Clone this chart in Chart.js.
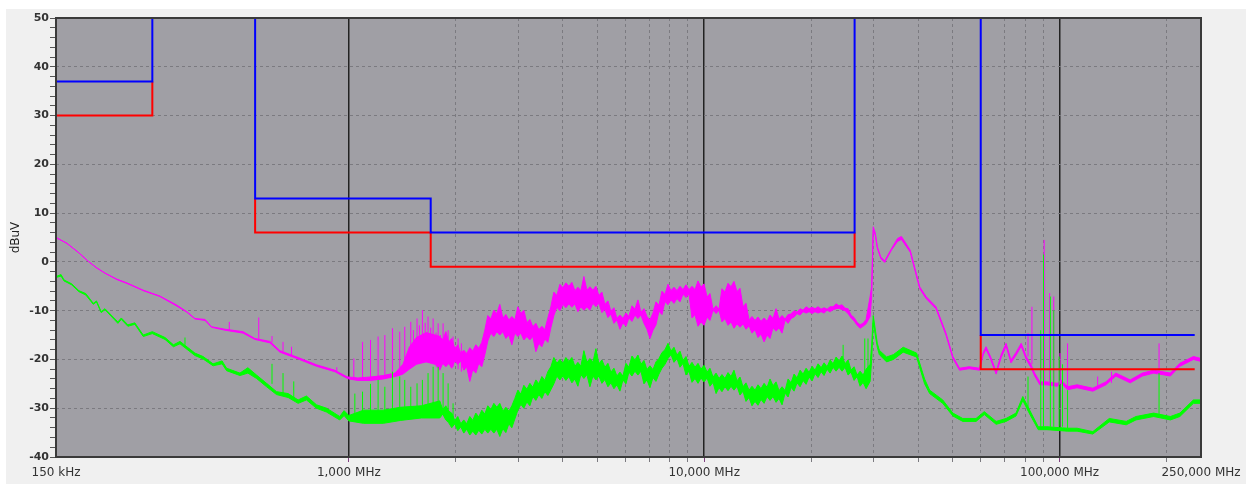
<!DOCTYPE html>
<html><head><meta charset="utf-8">
<script src="https://cdn.jsdelivr.net/npm/chart.js@4.4.0/dist/chart.umd.min.js"></script>
<style>html,body{margin:0;padding:0;background:#fff;}canvas{display:block;}</style>
</head><body>
<canvas id="c" width="1246" height="484"></canvas>
<script>
// ---- axis ticks ----
const xTickValues = [0.15, 1, 10, 100, 250];
const xTickLabels = ['150 kHz', '1,000 MHz', '10,000 MHz', '100,000 MHz', '250,000 MHz'];
const xMinorValues = [2, 3, 4, 5, 6, 7, 8, 9, 20, 30, 40, 50, 60, 70, 80, 90, 200];
const xDecades = [1, 10, 100];
const yTitle = 'dBuV';

// ---- limit lines (MHz, dBuV) ----
const qpF = [0.15, 0.28, 0.28, 0.28, 0.545, 0.545, 1.7, 1.7, 26.5, 26.5, 26.5, 60, 60, 240];
const qpV = [37, 37, 50, null, 50, 13, 13, 6, 6, 50, null, 50, -15, -15];
const avF = [0.15, 0.28, 0.28, 0.28, 0.545, 0.545, 1.7, 1.7, 26.5, 26.5, 26.5, 60, 60, 240];
const avV = [30, 30, 37, null, 13, 6, 6, -1, -1, 6, null, -15, -22, -22];

// ---- shared frequencies of the 1.8 - 29.3 MHz band section ----
const bandF = [
  1.803,1.838,1.875,1.911,1.948,1.987,2.026,2.066,2.106,2.147,2.190,2.233,
  2.277,2.321,2.367,2.414,2.461,2.510,2.559,2.609,2.660,2.713,2.766,2.821,
  2.876,2.932,2.990,3.049,3.108,3.170,3.232,3.295,3.360,3.426,3.493,3.562,
  3.632,3.703,3.776,3.850,3.926,4.003,4.081,4.161,4.243,4.327,4.412,4.498,
  4.587,4.677,4.769,4.862,4.958,5.055,5.155,5.256,5.359,5.464,5.572,5.681,
  5.793,5.907,6.023,6.141,6.262,6.385,6.510,6.638,6.769,6.902,7.037,7.176,
  7.316,7.460,7.607,7.756,7.909,8.064,8.222,8.384,8.549,8.717,8.888,9.063,
  9.240,9.422,9.607,9.796,9.988,10.19,10.38,10.59,10.80,11.01,11.22,11.44,
  11.67,11.90,12.13,12.37,12.61,12.86,13.11,13.37,13.63,13.90,14.17,14.45,
  14.74,15.03,15.32,15.62,15.93,16.24,16.56,16.89,17.22,17.56,17.90,18.25,
  18.61,18.98,19.35,19.73,20.12,20.51,20.91,21.33,21.74,22.17,22.61,23.05,
  23.50,23.96,24.43,24.91,25.40,25.90,26.41,26.93,27.46,28.0,28.55,29.30];

// ---- peak trace (magenta): upper / lower envelope ----
const magLowF = [0.150,0.161,0.173,0.185,0.195,0.206,0.222,0.239,0.264,0.294,0.327,0.350,0.369,0.394,0.411,0.448,0.504,0.544,0.600,0.640,0.720,0.811,0.913,0.985,1.0,
  1.06,1.15,1.25,1.35,1.42,1.48,1.55,1.65,1.75];
const magLowHi = [5.0,3.8,2.0,0.1,-1.2,-2.3,-3.5,-4.4,-5.8,-7.0,-8.8,-10.2,-11.6,-11.8,-13.3,-13.8,-14.3,-15.7,-16.3,-18.2,-19.6,-21.1,-22.2,-23.5,-23.6,
  -23.8,-23.6,-23.3,-22.8,-21.0,-17.5,-15.5,-14.5,-15.0];
const magLowLo = [5.0,3.8,2.0,0.1,-1.2,-2.3,-3.6,-4.5,-5.9,-7.1,-9.0,-10.3,-11.7,-12.0,-13.4,-14.0,-14.6,-15.9,-16.6,-18.5,-19.9,-21.4,-22.5,-23.8,-24.0,
  -24.3,-24.3,-24.0,-23.5,-23.0,-22.0,-21.0,-20.5,-21.0];
const magBandHi = [
  -15.3,-16.0,-14.3,-16.4,-15.7,-17.7,-17.0,-18.8,-18.1,-18.8,-17.6,-18.3,
  -17.0,-17.7,-16.5,-14.0,-11.0,-11.7,-9.9,-10.6,-8.7,-11.5,-10.8,-11.9,
  -11.2,-11.9,-9.2,-10.6,-9.9,-12.5,-11.8,-13.3,-12.6,-13.9,-13.2,-13.9,
  -11.5,-9.2,-6.2,-6.9,-4.6,-5.3,-4.3,-5.0,-4.2,-5.9,-5.2,-5.9,
  -3.0,-5.8,-5.1,-5.8,-5.0,-6.9,-6.2,-8.7,-8.0,-10.1,-9.4,-11.6,
  -10.9,-11.6,-10.5,-11.2,-9.0,-9.7,-7.8,-10.3,-9.6,-11.2,-11.9,-10.5,
  -8.2,-8.9,-6.0,-6.7,-4.6,-5.9,-5.2,-5.9,-5.0,-5.7,-4.7,-5.7,
  -5.0,-5.7,-3.9,-5.2,-4.5,-7.2,-6.5,-9.7,-9.0,-9.7,-5.5,-6.2,
  -4.4,-5.1,-4.0,-6.1,-5.4,-9.2,-8.5,-11.9,-11.2,-12.0,-11.3,-12.2,
  -11.5,-12.2,-10.9,-11.6,-9.6,-11.7,-11.0,-11.7,-10.8,-10.7,-10.0,-10.3,
  -9.6,-9.9,-9.2,-9.6,-9.3,-9.6,-9.2,-9.7,-9.4,-9.7,-9.2,-9.2,
  -8.6,-9.0,-8.8,-9.5,-9.6,-10.9,-11.4,-12.4,-12.9,-12.6,-11.8,-7.1];
const magBandLo = [
  -22.2,-20.8,-21.5,-20.8,-21.8,-20.3,-21.0,-20.3,-22.2,-21.5,-24.5,-22.1,
  -22.8,-20.8,-21.5,-19.0,-16.2,-14.6,-15.3,-14.3,-15.0,-14.3,-15.7,-15.0,
  -17.0,-14.6,-15.3,-14.6,-16.0,-15.3,-16.0,-15.3,-18.4,-16.7,-17.4,-15.8,
  -16.5,-13.5,-11.0,-9.3,-10.0,-8.7,-9.4,-8.6,-9.3,-8.6,-10.2,-9.2,
  -9.9,-9.2,-9.9,-8.5,-9.2,-8.5,-10.4,-9.7,-11.4,-10.7,-12.6,-11.9,
  -13.8,-12.5,-13.2,-11.5,-12.2,-10.9,-11.6,-10.9,-12.6,-13.8,-15.7,-14.0,
  -12.9,-10.1,-10.8,-8.1,-8.8,-7.8,-8.5,-7.5,-8.2,-6.6,-7.3,-6.6,
  -11.5,-10.8,-13.2,-12.3,-13.0,-11.3,-12.0,-9.9,-10.6,-9.9,-12.3,-11.6,
  -13.0,-12.3,-13.6,-12.7,-13.4,-12.7,-13.8,-13.1,-14.6,-13.9,-15.5,-14.8,
  -16.4,-15.0,-15.7,-13.5,-14.2,-13.5,-14.6,-11.9,-12.6,-11.6,-11.3,-10.6,
  -10.9,-10.2,-10.5,-10.2,-10.6,-10.2,-10.5,-10.2,-10.5,-9.9,-10.2,-9.8,
  -9.6,-9.5,-9.8,-10.0,-10.6,-11.5,-12.1,-13.0,-13.6,-13.2,-12.7,-11.2];
const magHighF = [29.6,29.9,30.3,30.7,31.4,32.2,33.7,35.0,35.9,38.0,40.4,42.1,44.9,47.9,50.1,52.3,55.7,59.5,61.0,62.1,64.0,66.3,68.5,70.7,73.0,75.5,78.0,80.6,83.0,85.1,88.0,92.1,98.6,100.8,105.3,112,124,135,144,158,171,184,205,218,238,250];
const magHighHi = [-5.0,7.2,5.9,3.1,1.0,0.2,2.8,4.8,5.2,2.4,-5.1,-7.1,-9.2,-14.6,-19.4,-21.8,-21.5,-21.8,-18.5,-17.4,-19.5,-22.5,-19.0,-16.7,-20.1,-18.5,-16.7,-19.4,-21.0,-22.8,-24.6,-24.6,-24.9,-24.2,-25.6,-25.2,-25.9,-24.6,-22.8,-24.2,-22.8,-22.2,-22.8,-20.8,-19.4,-19.8];
const magHighLo = [-7.0,6.5,5.5,2.8,0.7,-0.1,2.5,4.2,4.6,2.0,-5.5,-7.5,-9.6,-15.0,-19.8,-22.2,-21.9,-22.2,-19.0,-17.9,-20.0,-23.0,-19.6,-17.3,-20.7,-19.1,-17.3,-20.0,-21.6,-23.4,-25.2,-25.2,-25.5,-24.8,-26.2,-25.8,-26.5,-25.2,-23.4,-24.8,-23.4,-22.8,-23.4,-21.4,-20.0,-20.4];

// ---- peak trace spikes: frequency, base, top ----
const magSpF  = [0.461,0.558,0.608,0.653,0.690,0.925,1.033,1.093,1.151,1.209,1.263,1.327,1.391,1.437,1.494,1.52,1.556,1.58,1.611,1.64,1.671,1.70,1.727,1.76,1.784,1.81,1.842,1.87,1.903,1.93,1.965,2.030,2.074,81.5,83.6,88.5,90.5,93.8,96.3,100.3,105.3,128,140,190.5];
const magSpLo = [-13.9,-15.8,-16.5,-18.4,-19.5,-22.4,-24.0,-24.0,-24.0,-24.0,-23.8,-23.5,-23.3,-22.5,-21.5,-20.0,-20.0,-19.5,-20.0,-19.5,-20.0,-19.5,-20.0,-20.0,-20.5,-20.5,-21.0,-21.0,-21.0,-21.0,-21.5,-22.0,-22.5,-19.4,-21.0,-24.0,-24.6,-24.6,-24.6,-24.5,-25.6,-25.8,-24.8,-22.5];
const magSpHi = [-12.3,-11.4,-15.2,-16.4,-17.4,-21.6,-19.8,-16.4,-16.0,-15.3,-15.0,-13.6,-14.3,-13.3,-12.3,-14.0,-11.6,-13.0,-9.9,-12.5,-11.2,-13.5,-11.6,-14.5,-12.6,-15.0,-12.6,-16.0,-14.0,-16.5,-15.3,-15.7,-16.7,-14.6,-9.2,-16.0,4.5,-6.4,-7.1,-18.7,-16.7,-23.5,-22.5,-16.7];

// ---- average trace (green): upper / lower envelope ----
const grnLowF = [0.150,0.155,0.158,0.166,0.174,0.182,0.191,0.195,0.201,0.206,0.224,0.229,0.239,0.250,0.264,0.280,0.304,0.321,0.335,0.369,0.389,0.415,0.440,0.453,0.494,0.520,0.550,0.587,0.626,0.675,0.720,0.760,0.811,0.866,0.943,0.970,1.000,
  1.10,1.25,1.40,1.60];
const grnLowHi = [-3.0,-2.6,-3.7,-4.5,-5.9,-6.5,-8.5,-8.0,-10.2,-9.6,-12.3,-11.5,-12.9,-12.5,-15.0,-14.3,-15.5,-17.0,-16.3,-18.7,-19.4,-20.9,-20.3,-21.8,-22.8,-21.7,-23.2,-24.9,-26.6,-27.0,-28.3,-27.5,-29.3,-30.0,-31.7,-30.5,-31.5,
  -30.4,-30.4,-29.8,-29.5];
const grnLowLo = [-3.2,-2.9,-3.9,-4.7,-6.1,-6.8,-8.7,-8.2,-10.4,-9.8,-12.6,-11.8,-13.2,-12.8,-15.3,-14.7,-15.9,-17.4,-16.8,-19.2,-19.9,-21.3,-20.9,-22.3,-23.3,-22.8,-23.9,-25.6,-27.2,-27.8,-29.0,-28.3,-30.0,-30.8,-32.4,-31.5,-32.6,
  -33.1,-33.1,-32.5,-32.0];
const grnBandHi = [
  -28.5,-30.3,-29.5,-30.6,-31.0,-32.5,-31.7,-33.2,-32.4,-33.2,-31.7,-32.5,
  -31.0,-31.8,-30.4,-31.2,-29.5,-30.3,-29.0,-29.8,-29.0,-30.6,-29.8,-30.6,
  -29.5,-28.0,-26.3,-27.1,-25.3,-26.1,-24.9,-25.7,-24.2,-25.0,-23.5,-24.3,
  -22.5,-21.5,-19.6,-20.8,-20.0,-20.8,-19.6,-20.4,-19.6,-21.4,-20.6,-21.4,
  -18.2,-20.6,-19.8,-20.6,-17.8,-20.9,-20.1,-21.6,-20.8,-22.6,-21.8,-23.4,
  -22.6,-23.4,-20.8,-21.6,-19.3,-20.1,-19.1,-21.0,-20.2,-22.1,-21.3,-22.1,
  -20.5,-19.8,-18.6,-18.0,-16.7,-18.3,-17.5,-19.1,-18.3,-20.2,-19.4,-21.4,
  -20.6,-21.6,-20.8,-22.0,-21.2,-22.6,-21.8,-23.6,-22.8,-23.9,-23.1,-23.9,
  -22.7,-23.5,-22.2,-24.4,-23.6,-25.6,-24.8,-26.3,-25.5,-26.3,-25.2,-26.0,
  -24.9,-25.7,-24.0,-25.4,-24.6,-26.4,-25.6,-26.4,-24.0,-24.8,-23.0,-23.8,
  -22.2,-23.0,-21.8,-22.6,-21.4,-22.2,-20.9,-21.7,-20.7,-21.5,-20.1,-20.9,
  -19.5,-20.3,-19.3,-20.9,-20.1,-22.2,-21.5,-23.2,-22.4,-23.2,-22.0,-21.0];
const grnBandLo = [
  -32.0,-31.2,-32.4,-33.0,-34.0,-33.2,-34.6,-33.8,-35.1,-34.3,-35.5,-34.7,
  -35.5,-34.5,-35.3,-34.3,-35.1,-34.3,-35.1,-34.3,-35.8,-34.2,-35.0,-33.2,
  -34.0,-32.2,-30.4,-29.2,-30.0,-28.7,-29.5,-27.6,-28.4,-27.2,-28.0,-26.6,
  -27.4,-26.2,-25.0,-23.4,-24.2,-23.4,-24.3,-23.5,-24.8,-24.0,-25.5,-23.1,
  -23.9,-23.1,-25.6,-23.4,-24.2,-23.4,-24.9,-24.1,-25.6,-24.8,-26.0,-25.2,
  -26.5,-24.2,-25.0,-22.6,-23.4,-22.4,-23.2,-22.4,-25.0,-24.2,-25.8,-23.7,
  -24.5,-23.0,-21.8,-21.0,-19.8,-19.0,-20.6,-19.8,-21.6,-20.8,-23.2,-22.4,
  -24.7,-23.9,-24.9,-23.8,-24.6,-23.8,-25.5,-24.7,-27.0,-25.8,-26.6,-25.6,
  -26.4,-25.5,-26.3,-25.5,-27.3,-26.5,-28.6,-27.8,-29.5,-28.6,-29.4,-28.2,
  -29.0,-27.6,-28.4,-27.6,-28.8,-28.0,-29.3,-26.9,-27.7,-25.7,-26.5,-24.8,
  -25.6,-24.3,-25.1,-23.6,-24.4,-22.9,-23.7,-22.5,-23.3,-22.0,-22.8,-21.6,
  -22.4,-21.6,-22.4,-21.6,-23.2,-22.6,-24.3,-23.5,-25.5,-24.7,-26.0,-24.5];
const grnHighF = [29.6,29.9,30.7,31.1,32.6,34.1,36.3,39.6,41.7,43.1,46.9,50.1,53.4,58.2,61.4,66.3,70.7,75.4,78.8,82.4,87.1,92.1,105.3,112,124,138,154,164,184,205,218,238,250];
const grnHighHi = [-17.0,-11.0,-16.7,-18.1,-19.5,-19.0,-17.5,-18.7,-24.0,-26.3,-28.3,-31.0,-32.1,-32.1,-30.7,-32.7,-32.1,-31.0,-27.6,-30.4,-33.8,-33.8,-34.1,-34.1,-34.8,-32.1,-32.7,-31.7,-31.0,-31.7,-31.0,-28.3,-28.3];
const grnHighLo = [-20.0,-12.5,-17.5,-19.0,-20.5,-20.0,-18.5,-19.5,-25.0,-27.0,-29.0,-31.6,-32.7,-32.7,-31.3,-33.3,-32.7,-31.6,-28.4,-31.2,-34.4,-34.4,-34.7,-34.7,-35.3,-32.8,-33.4,-32.4,-31.7,-32.4,-31.7,-29.0,-29.0];

// ---- average trace spikes: frequency, base, top ----
const grnSpF  = [0.346,0.608,0.653,0.700,1.040,1.093,1.151,1.209,1.263,1.327,1.391,1.437,1.494,1.556,1.611,1.671,1.727,1.784,1.842,1.903,1.965,24.6,28.3,28.9,81.5,88.5,90.1,94.2,96.3,99.7,101.9,105.3,190.5];
const grnSpLo = [-17.0,-25.0,-27.0,-28.0,-32.0,-32.0,-32.0,-32.0,-32.0,-31.8,-31.5,-31.5,-31.0,-31.0,-31.0,-31.0,-31.0,-31.0,-31.0,-31.5,-32.5,-21.5,-24.0,-24.0,-30.4,-33.8,-33.8,-33.8,-33.8,-33.8,-33.8,-34.1,-31.5];
const grnSpHi = [-15.5,-20.9,-22.8,-24.5,-27.0,-26.6,-25.0,-24.2,-25.6,-22.5,-23.5,-24.2,-25.6,-24.9,-24.2,-22.8,-21.5,-21.5,-22.8,-24.9,-29.0,-17.0,-15.7,-15.7,-23.5,-14.0,1.5,-7.1,-9.9,-19.4,-21.0,-26.3,-22.8];

// ---- assemble series ----
const magF = magLowF.concat(bandF, magHighF);
const magHi = magLowHi.concat(magBandHi, magHighHi);
const magLo = magLowLo.concat(magBandLo, magHighLo);
const grnF = grnLowF.concat(bandF, grnHighF);
const grnHi = grnLowHi.concat(grnBandHi, grnHighHi);
const grnLo = grnLowLo.concat(grnBandLo, grnHighLo);

function pts(fs, vs) { return fs.map((f, i) => ({x: f, y: vs[i]})); }
function spikes(fs, lo, hi) {
  const d = [];
  fs.forEach((f, i) => { d.push({x: f, y: lo[i]}, {x: f, y: hi[i]}, {x: f, y: null}); });
  return d;
}
const MAG = '#ff00ff', GRN = '#00ff00', BLUE = '#0000ff', RED = '#ff0000';
const xAllTicks = xTickValues.concat(xMinorValues).sort((a, b) => a - b);

const base = {pointRadius: 0, pointHoverRadius: 0, tension: 0, spanGaps: false, fill: false};
const datasets = [
  Object.assign({}, base, {label: 'QP limit', data: pts(qpF, qpV), borderColor: BLUE, borderWidth: 2}),
  Object.assign({}, base, {label: 'AV limit', data: pts(avF, avV), borderColor: RED, borderWidth: 2}),
  Object.assign({}, base, {label: 'AV spikes', data: spikes(grnSpF, grnSpLo, grnSpHi), borderColor: GRN, borderWidth: 1}),
  Object.assign({}, base, {label: 'AV hi', data: pts(grnF, grnHi), borderColor: GRN, borderWidth: 1}),
  Object.assign({}, base, {label: 'AV lo', data: pts(grnF, grnLo), borderColor: GRN, borderWidth: 1, fill: '-1', backgroundColor: GRN}),
  Object.assign({}, base, {label: 'PK spikes', data: spikes(magSpF, magSpLo, magSpHi), borderColor: MAG, borderWidth: 1}),
  Object.assign({}, base, {label: 'PK hi', data: pts(magF, magHi), borderColor: MAG, borderWidth: 1}),
  Object.assign({}, base, {label: 'PK lo', data: pts(magF, magLo), borderColor: MAG, borderWidth: 1, fill: '-1', backgroundColor: MAG})
];

const framePlugin = {
  id: 'frame',
  beforeDraw(chart) {
    const {ctx, chartArea: a, width, height} = chart;
    ctx.save();
    ctx.fillStyle = '#ffffff'; ctx.fillRect(0, 0, width, height);
    ctx.fillStyle = '#f0f0f0'; ctx.fillRect(6, 9, width - 6, height - 9);
    ctx.fillStyle = '#a09fa5'; ctx.fillRect(a.left, a.top, a.right - a.left, a.bottom - a.top);
    ctx.restore();
  },
  afterDraw(chart) {
    const {ctx, chartArea: a} = chart;
    ctx.save();
    ctx.strokeStyle = '#3a3a3a'; ctx.lineWidth = 2;
    ctx.strokeRect(a.left, a.top, a.right - a.left, a.bottom - a.top);
    ctx.restore();
  }
};

new Chart(document.getElementById('c'), {
  type: 'line',
  data: {datasets},
  plugins: [framePlugin],
  options: {
    responsive: false, animation: false, devicePixelRatio: 1,
    layout: {padding: {top: 18, right: 45, left: 0, bottom: 0}},
    plugins: {legend: {display: false}, tooltip: {enabled: false}},
    elements: {line: {borderJoinStyle: 'miter'}},
    scales: {
      x: {
        type: 'logarithmic', position: 'bottom', min: 0.15, max: 250, bounds: 'data',
        afterBuildTicks: s => { s.ticks = xAllTicks.map(v => ({value: v})); },
        afterFit: s => { s.height = 27; },
        ticks: {
          autoSkip: false, maxRotation: 0, minRotation: 0, padding: 4, color: '#333333',
          font: {family: 'DejaVu Sans', size: 12},
          callback: v => { const i = xTickValues.indexOf(v); return i >= 0 ? xTickLabels[i] : ''; }
        },
        grid: {
          color: c => (c.tick && xMinorValues.includes(c.tick.value)) ? '#7b7a80' : 'rgba(0,0,0,0)',
          lineWidth: 1, tickLength: 5,
          tickColor: c => (c.tick && xDecades.includes(c.tick.value)) ? '#804080' : (c.tick && xMinorValues.includes(c.tick.value) ? '#7b7a80' : 'rgba(0,0,0,0)')
        },
        border: {display: false, dash: [3, 3]}
      },
      xTop: {
        type: 'logarithmic', position: 'top', min: 0.15, max: 250, bounds: 'data',
        afterBuildTicks: s => { s.ticks = xDecades.map(v => ({value: v})); },
        afterFit: s => { s.height = 0; },
        ticks: {display: false},
        grid: {color: '#222222', lineWidth: 1.5, drawTicks: false},
        border: {display: false}
      },
      y: {
        type: 'linear', min: -40, max: 50,
        afterFit: s => { s.width = 56; },
        ticks: {
          stepSize: 2, autoSkip: false, padding: 1, color: '#333333',
          font: {family: 'DejaVu Sans', size: 11, weight: 'bold'},
          callback: v => (v % 10 === 0 ? String(v) : '')
        },
        grid: {
          color: c => (c.tick && c.tick.value % 10 === 0 && c.tick.value > -40 && c.tick.value < 50) ? '#7b7a80' : 'rgba(0,0,0,0)',
          lineWidth: 1, tickLength: 6, tickColor: '#555555'
        },
        border: {display: false, dash: [3, 3]},
        title: {display: true, text: yTitle, color: '#222222', font: {family: 'DejaVu Sans', size: 12}, padding: {top: 9, bottom: 0}}
      }
    }
  }
});
</script>
</body></html>
